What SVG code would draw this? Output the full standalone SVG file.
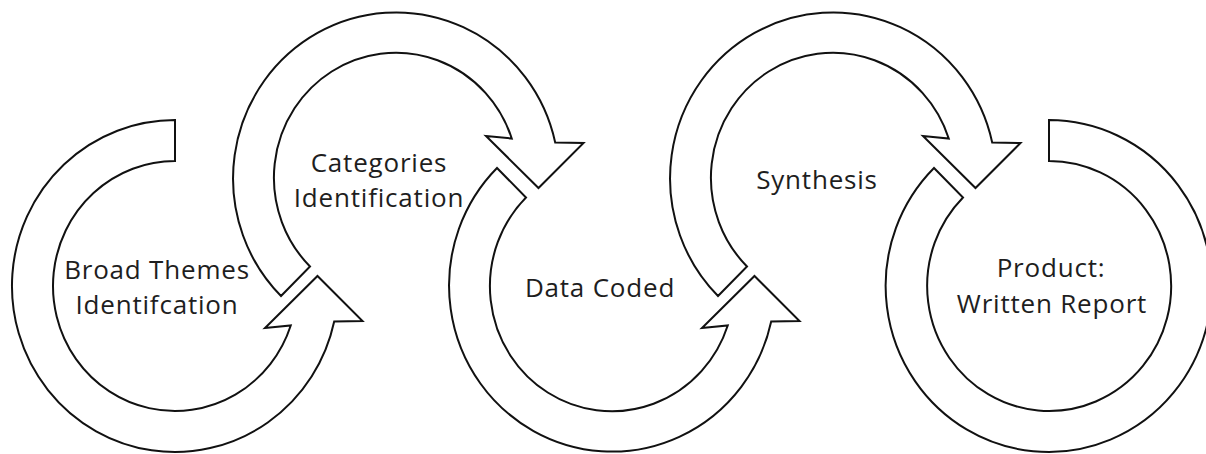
<svg xmlns="http://www.w3.org/2000/svg" xmlns:xlink="http://www.w3.org/1999/xlink" width="1206" height="454" viewBox="0 0 1206 454">
  <style>
    .band { fill: #ffffff; stroke: #111111; stroke-width: 2; stroke-linejoin: miter; }
    .label { font-family: "Open Sans", "Liberation Sans", sans-serif; font-size: 26px; letter-spacing: 0.8px; fill: #1e1e1e; text-anchor: middle; }
  </style>
  <defs>
    <!-- circular arrow with tail at upper-left (225deg), arrowhead at right -->
    <path id="arrowC" d="M -115,-118 A 163 166 0 1 0 159.2,35.5 L 187.5,35 L 142.5,-10 L 90,42 L 115.75,39.5 A 122 125 0 1 1 -86,-88.5 Z"/>
  </defs>
  <rect x="0" y="0" width="1206" height="454" fill="#ffffff"/>

  <g id="node-broad-themes">
    <path class="band" transform="translate(175,286)" d="M 0,-166 A 163 166 0 1 0 159.2,35.5 L 187.5,35 L 142.5,-10 L 90,42 L 115.75,39.5 A 122 125 0 1 1 0,-125 Z"/>
    <text class="label" x="157" y="279">Broad Themes</text>
    <text class="label" x="157" y="314">Identifcation</text>
  </g>

  <g id="node-categories">
    <use class="band" xlink:href="#arrowC" href="#arrowC" transform="translate(396,178) scale(1,-1)"/>
    <text class="label" x="379" y="172">Categories</text>
    <text class="label" x="379" y="207">Identification</text>
  </g>

  <g id="node-data-coded">
    <use class="band" xlink:href="#arrowC" href="#arrowC" transform="translate(612,286)"/>
    <text class="label" x="600" y="297">Data Coded</text>
  </g>

  <g id="node-synthesis">
    <use class="band" xlink:href="#arrowC" href="#arrowC" transform="translate(833,178) scale(1,-1)"/>
    <text class="label" x="817" y="189">Synthesis</text>
  </g>

  <g id="node-product">
    <path class="band" transform="translate(1049,286)" d="M 0,-166 A 163 166 0 1 1 -115,-118 L -86,-88.5 A 122 125 0 1 0 0,-125 Z"/>
    <text class="label" x="1051" y="277">Product:</text>
    <text class="label" x="1052" y="313">Written Report</text>
  </g>
</svg>
